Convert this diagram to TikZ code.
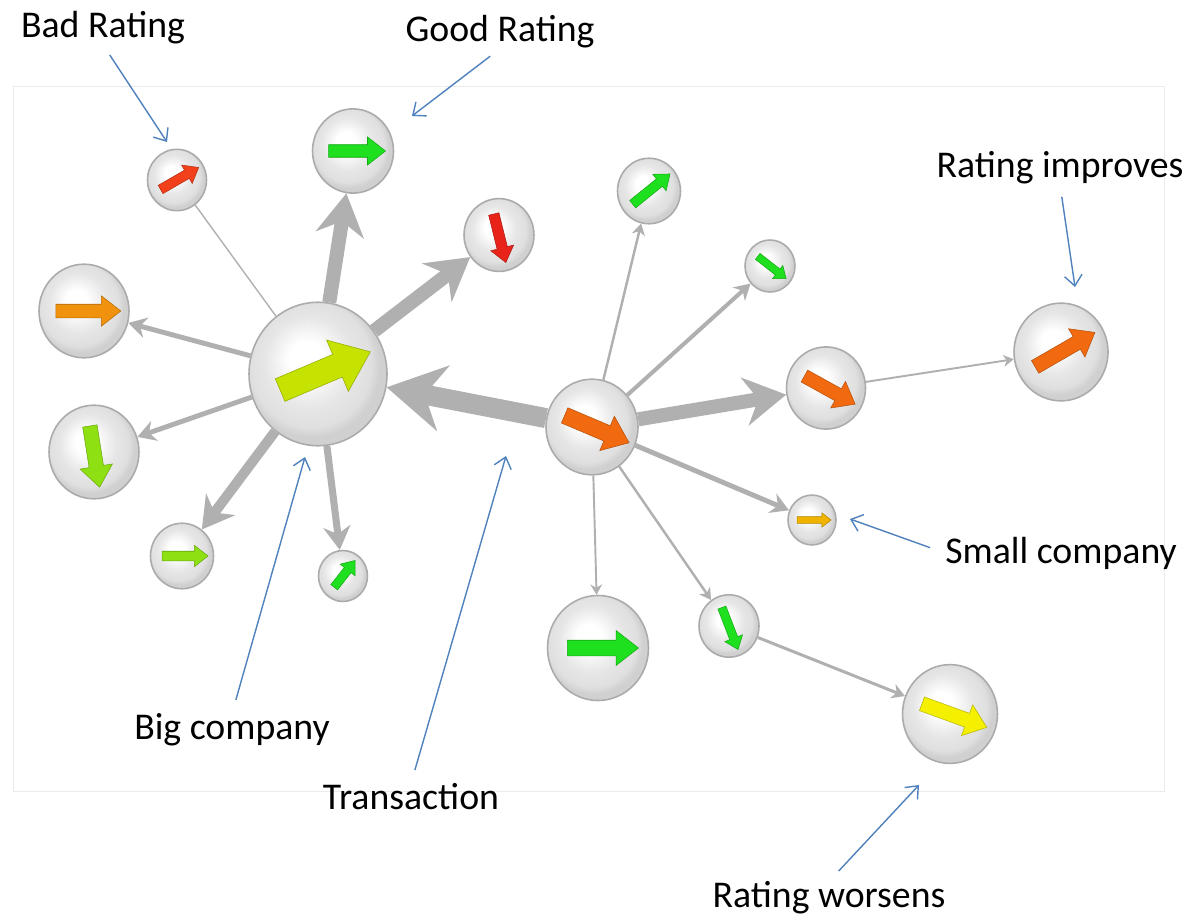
\documentclass[tikz,border=0pt]{standalone}
\usepackage{fontspec}
\setmainfont{Carlito}
\usepackage{tikz}
\usetikzlibrary{shapes.geometric,
                shapes.arrows,
                arrows.meta,
                positioning}
\definecolor{linkgray}{HTML}{B0B0B0}
\definecolor{ringgray}{HTML}{ABABAB}
\definecolor{ballgray}{HTML}{D0D0D0}
\definecolor{ballmid}{HTML}{E6E6E6}
\definecolor{framegray}{HTML}{EBEBEB}
\definecolor{pointblue}{HTML}{4F81BD}
\definecolor{ratelime}{HTML}{C6E200}
\definecolor{rateorange}{HTML}{F26A10}
\definecolor{ratered}{HTML}{F2401A}
\definecolor{ratecrimson}{HTML}{E8231A}
\definecolor{rategreen}{HTML}{1EE01E}
\definecolor{ratespring}{HTML}{8EE012}
\definecolor{ratesunset}{HTML}{F0920E}
\definecolor{rategold}{HTML}{F0B400}
\definecolor{ratelemon}{HTML}{F4F000}
\pgfdeclareradialshading{companyball}{\pgfpoint{-5bp}{6bp}}{%
  color(0bp)=(white); color(6bp)=(white); color(16bp)=(ballmid);
  color(22bp)=(ballmid!70!ballgray); color(25bp)=(ballgray); color(50bp)=(ballgray)}
\tikzset{company/.style = {ellipse,
                     draw=ringgray,
                     line width=0.9pt,
                     shade,
                     shading=companyball,
                     minimum width=#1,
                     minimum height=1.04*#1
                    },
         rating/.style n args = {4}{
                     single arrow,
                     fill=#1,
                     draw=#1!75!black,
                     line width=0.3pt,
                     rotate=#2,
                     minimum height=#3,
                     inner sep=#4,
                     single arrow head extend=1.3*#4,
                     single arrow tip angle=76
         },
         link/.style = {
                     draw=linkgray,
                     line width=#1,
                     -{Stealth[length=3pt 2.6, width'=0pt 1.15]}
         },
         note/.style = {
            font=\fontsize{21.5}{26}\selectfont,
            inner sep=0pt
         },
         pointer/.style = {
            draw=pointblue,line width=0.8pt,
            -{Straight Barb[length=6pt,width=10pt]}
         }
        }

\begin{document}
\begin{tikzpicture}[x=0.02cm,y=-0.02cm]
        \useasboundingbox (0,0) rectangle (1197,919);
        \draw[framegray] (13,86) rectangle (1164,791);

        \node[company=2.76cm] (bigcomp) at (318,374) {};
        \node[company=1.84cm] (hubcomp) at (592,427) {};
        \node[company=1.18cm] (badcomp) at (177,180) {};
        \node[company=1.62cm] (goodcomp) at (353,151) {};
        \node[company=1.40cm] (dropcomp) at (499,235) {};
        \node[company=1.80cm] (orangecomp) at (84,311) {};
        \node[company=1.80cm] (fallcomp) at (94,452) {};
        \node[company=1.26cm] (limecomp) at (182,556) {};
        \node[company=0.98cm] (tinycomp) at (343,576) {};
        \node[company=1.26cm] (upcomp) at (649,191) {};
        \node[company=1.00cm] (dipcomp) at (770,266) {};
        \node[company=1.58cm] (risecomp) at (826,388) {};
        \node[company=1.88cm] (improvedcomp) at (1061,352) {};
        \node[company=0.96cm] (smallcomp) at (812,520) {};
        \node[company=2.02cm] (largecomp) at (598,648) {};
        \node[company=1.20cm] (sinkcomp) at (729,626) {};
        \node[company=1.90cm] (worsenedcomp) at (950,714) {};

        \draw[link=11.4pt] (hubcomp) -- (bigcomp);
        \draw[link=8pt] (bigcomp) -- (goodcomp);
        \draw[link=8pt] (bigcomp) -- (dropcomp);
        \draw[link=2.8pt] (bigcomp) -- (orangecomp);
        \draw[link=2.8pt] (bigcomp) -- (fallcomp);
        \draw[link=5.7pt] (bigcomp) -- (limecomp);
        \draw[link=4pt] (bigcomp) -- (tinycomp);
        \draw[linkgray,line width=0.8pt] (badcomp) -- (bigcomp);
        \draw[link=1.4pt] (hubcomp) -- (upcomp);
        \draw[link=2.3pt] (hubcomp) -- (dipcomp);
        \draw[link=8pt] (hubcomp) -- (risecomp);
        \draw[link=2.8pt] (hubcomp) -- (smallcomp);
        \draw[link=1.1pt] (hubcomp) -- (largecomp);
        \draw[link=1.4pt] (hubcomp) -- (sinkcomp);
        \draw[link=1.1pt] (risecomp) -- (improvedcomp);
        \draw[link=1.7pt] (sinkcomp) -- (worsenedcomp);

        % rating of each company
        \node[rating={ratelime}{23}{1.96cm}{0.24cm}] (bigrate) at (bigcomp) {};
        \node[rating={rateorange}{-23}{1.40cm}{0.16cm}] (hubrate) at (hubcomp) {};
        \node[rating={ratered}{30}{0.88cm}{0.09cm}] (badrate) at (badcomp) {};
        \node[rating={rategreen}{0}{1.14cm}{0.12cm}] (goodrate) at (goodcomp) {};
        \node[rating={ratecrimson}{-76}{1.00cm}{0.10cm}] (droprate) at (dropcomp) {};
        \node[rating={ratesunset}{0}{1.30cm}{0.13cm}] (orangerate) at (orangecomp) {};
        \node[rating={ratespring}{-81}{1.24cm}{0.14cm}] (fallrate) at (fallcomp) {};
        \node[rating={ratespring}{0}{0.92cm}{0.09cm}] (limerate) at (limecomp) {};
        \node[rating={rategreen}{52}{0.68cm}{0.08cm}] (tinyrate) at (tinycomp) {};
        \node[rating={rategreen}{39}{0.96cm}{0.09cm}] (uprate) at (upcomp) {};
        \node[rating={rategreen}{-38}{0.72cm}{0.07cm}] (diprate) at (dipcomp) {};
        \node[rating={rateorange}{-29}{1.16cm}{0.13cm}] (riserate) at (risecomp) {};
        \node[rating={rateorange}{30}{1.38cm}{0.14cm}] (improvedrate) at (improvedcomp) {};
        \node[rating={rategold}{0}{0.68cm}{0.06cm}] (smallrate) at (smallcomp) {};
        \node[rating={rategreen}{0}{1.42cm}{0.15cm}] (largerate) at (largecomp) {};
        \node[rating={rategreen}{-69}{0.90cm}{0.08cm}] (sinkrate) at (sinkcomp) {};
        \node[rating={ratelemon}{-20}{1.38cm}{0.14cm}] (worsenedrate) at (worsenedcomp) {};

        % labels
        \node[note] (badlbl) at (103,28) {Bad Rating};
        \node[note] (goodlbl) at (500,32) {Good Rating};
        \node[note] (improvelbl) at (1060,168) {Rating improves};
        \node[note,anchor=west] (smalllbl) at (945,553) {Small company};
        \node[note] (biglbl) at (232,730) {Big company};
        \node[note] (translbl) at (411,797) {Transaction};
        \node[note] (worselbl) at (829,898) {Rating worsens};

        \coordinate (badtip) at (167,142);
        \coordinate (goodtip) at (412,116);
        \coordinate (improvetip) at (1075,287);
        \coordinate (smalltip) at (850,519);
        \coordinate (bigtip) at (305,457);
        \coordinate (transtip) at (506,456);
        \coordinate (worsetip) at (919,785);

        \path[pointer,shorten <=7pt] (badlbl.south) -- (badtip);
        \path[pointer,shorten <=7pt] (goodlbl.south) -- (goodtip);
        \path[pointer,shorten <=7pt] (improvelbl.south) -- (improvetip);
        \path[pointer,shorten <=9pt] (smalllbl.west) -- (smalltip);
        \path[pointer,shorten <=8pt] (biglbl.north) -- (bigtip);
        \path[pointer,shorten <=8pt] (translbl.north) -- (transtip);
        \path[pointer,shorten <=8pt] (worselbl.north) -- (worsetip);
    \end{tikzpicture}
\end{document}
